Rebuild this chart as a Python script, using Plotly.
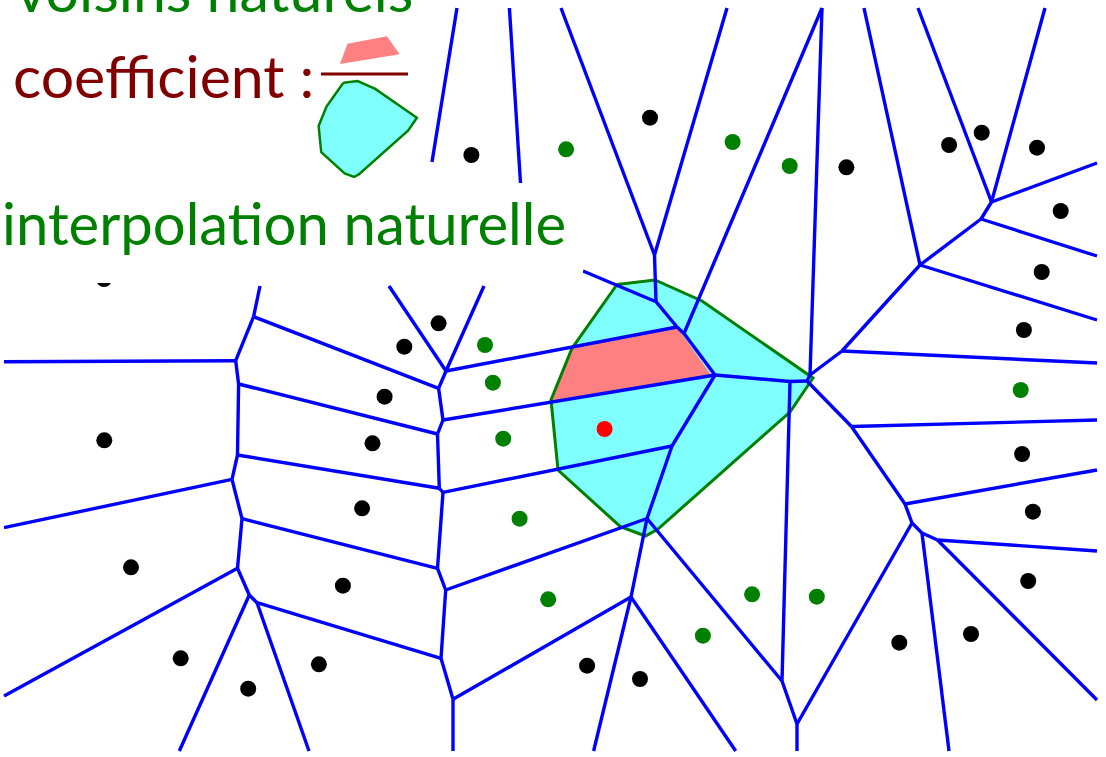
import plotly.graph_objects as go

# Voronoi vertices, in the drawing's pixel frame (y grows downwards)
node_names = [
    "A", "B", "C", "D", "E", "H", "I1", "I2", "V", "W", "X", "Y", "S", "R", "Q", "T", "U",
    "O", "P", "L", "M", "N", "J", "F", "G",
    "K1", "K2", "K3", "K4", "K5", "K6", "K7", "K8", "K9", "K10", "K11", "K12", "K13",
    "K14", "K15", "K16", "K17",
    # ends where the cells leave the frame or run under a label
    "t1", "t2", "t3", "t4", "t5", "t6", "c6", "t7", "c7", "c1", "c2", "c3", "c4",
    "l1", "l2", "l3", "b1", "b2", "b3", "b4", "b5", "b6", "b7",
    "r1", "r2", "r3", "r4", "r5", "r6", "r7", "r8",
]
node_x = [
    654.5, 656, 684, 677, 715, 790, 810, 807, 842, 920, 981, 991.5, 851.5, 905, 912, 922, 937.5,
    782, 797, 672, 647, 631, 822, 446, 443,
    235.7, 253.6, 438.6, 238.6, 437.5, 237.5, 439.3, 443, 232, 242, 437.5, 237.5, 249.3,
    257, 441, 445.7, 453,
    561, 727, 864, 918, 1045, 457, 432, 509.4, 520.5, 583, 260, 389, 484,
    4, 4, 4, 179.3, 309, 453, 593.6, 735.7, 797, 949,
    1097, 1097, 1097, 1097, 1097, 1097, 1097, 1097,
]
node_y = [
    255, 301.7, 333.5, 327, 375, 381.5, 375, 381, 351, 265, 219, 202, 426.5, 504, 523, 533, 540,
    681, 724, 446, 518.5, 597, 8, 371, 420,
    360.7, 316.7, 388.3, 384, 434, 455, 488.3, 492.3, 479.3, 518.7, 568.3, 568.3, 595,
    602.7, 658.3, 590, 699.3,
    8, 8, 8, 8, 8, 8, 162, 8, 183, 271, 286, 286, 286,
    361.7, 527.7, 696, 751, 751, 751, 751, 751, 751, 751,
    700, 551, 470, 420, 363, 320, 256, 163,
]

edges = [
    ("A", "t1"), ("A", "t2"), ("A", "B"), ("B", "c1"), ("B", "D"), ("D", "C"), ("C", "E"),
    ("C", "J"), ("D", "F"), ("G", "E"), ("E", "H"), ("H", "I2"), ("I2", "I1"), ("I1", "J"),
    ("I1", "V"), ("I2", "S"), ("H", "O"), ("O", "M"), ("O", "P"), ("P", "b6"), ("P", "Q"),
    ("Q", "R"), ("R", "S"), ("R", "r3"), ("S", "r4"), ("Q", "T"), ("T", "b7"), ("T", "U"),
    ("U", "r2"), ("U", "r1"), ("V", "W"), ("V", "r5"), ("W", "t3"), ("W", "r6"), ("W", "X"),
    ("X", "r7"), ("X", "Y"), ("Y", "t4"), ("Y", "t5"), ("Y", "r8"),
    ("E", "L"), ("L", "K8"), ("L", "M"), ("M", "K16"), ("M", "N"), ("N", "K17"),
    ("N", "b4"), ("N", "b5"),
    ("F", "K3"), ("F", "c3"), ("F", "c4"), ("K3", "K2"), ("K3", "G"), ("G", "K5"),
    ("K5", "K4"), ("K5", "K7"), ("K7", "K6"), ("K7", "K8"), ("K8", "K11"), ("K11", "K10"),
    ("K11", "K16"), ("K16", "K15"), ("K15", "K14"), ("K15", "K17"), ("K17", "b3"),
    ("K1", "l1"), ("K1", "K2"), ("K1", "K4"), ("K2", "c2"), ("K4", "K6"), ("K6", "K9"),
    ("K9", "l2"), ("K9", "K10"), ("K10", "K12"), ("K12", "l3"), ("K12", "K13"),
    ("K13", "b1"), ("K13", "K14"), ("K14", "b2"),
    ("t6", "c6"), ("t7", "c7"),
]

# natural-neighbour cell of the query point, and the stolen area from one neighbour
cell_x = [617, 655, 702, 813, 790, 658, 645.4, 620.4, 558, 551, 572]
cell_y = [284.5, 280, 301, 378, 412, 529, 536, 526.7, 470, 400, 348.3]
stolen_x = [572, 677, 711, 552]
stolen_y = [347.5, 327, 375, 401.5]

# sites
black_x = [104, 438.6, 404.3, 384.6, 104.3, 372.5, 362.1, 131, 342.9, 180.7, 318.9, 248.2,
           471.4, 650, 846.4, 949.1, 981.7, 1037, 1060.7, 1041.7, 1023.9, 1022.1, 1032.9,
           1028.2, 971, 899.3, 587.1, 640]
black_y = [279, 323.3, 346.7, 396.7, 440.3, 443.3, 508.3, 567.3, 585.7, 658.3, 664.3, 688.7,
           155, 117.7, 167.3, 145, 132.7, 147.7, 211, 272, 330, 454, 511.7,
           581, 634, 642.7, 665.7, 679]
green_x = [485, 492.9, 503.2, 519.6, 548.2, 566.1, 732.6, 789.7, 1020.7, 752.1, 816.8, 702.9]
green_y = [345, 382.7, 438.7, 518.7, 599.3, 149.3, 142, 166, 390, 594.3, 596.7, 635.7]
query_x = [604.6]
query_y = [429]

labels = ["voisins naturels", "coefficient :", "interpolation naturelle"]

BLUE = "#0000ff"
GREEN = "#008000"
CYAN = "#80ffff"
PINK = "#ff8080"
MAROON = "#800000"

pos = {n: (x, y) for n, x, y in zip(node_names, node_x, node_y)}
edge_x, edge_y = [], []
for a, b in edges:
    edge_x += [pos[a][0], pos[b][0], None]
    edge_y += [pos[a][1], pos[b][1], None]


def closed(v):
    return list(v) + [v[0]]


def scaled(v, k, off):
    return [k * t + off for t in closed(v)]


fig = go.Figure()

fig.add_scatter(x=closed(cell_x), y=closed(cell_y), mode="lines", fill="toself",
                fillcolor=CYAN, line=dict(width=0), hoverinfo="skip")
fig.add_scatter(x=closed(stolen_x), y=closed(stolen_y), mode="lines", fill="toself",
                fillcolor=PINK, line=dict(width=0), hoverinfo="skip")
fig.add_scatter(x=closed(cell_x), y=closed(cell_y), mode="lines",
                line=dict(color=GREEN, width=3), hoverinfo="skip")
fig.add_scatter(x=edge_x, y=edge_y, mode="lines", line=dict(color=BLUE, width=3.4),
                hoverinfo="skip")

fig.add_scatter(x=black_x, y=black_y, mode="markers",
                marker=dict(color="black", size=16, line=dict(width=0)))
fig.add_scatter(x=green_x, y=green_y, mode="markers",
                marker=dict(color=GREEN, size=16, line=dict(width=0)))
fig.add_scatter(x=query_x, y=query_y, mode="markers",
                marker=dict(color="#ff0000", size=16, line=dict(width=0)))

# small fraction in the legend: stolen area over the new cell
k = 0.375
fig.add_scatter(x=scaled(stolen_x, k, 133), y=scaled(stolen_y, k, -86.5), mode="lines",
                fill="toself", fillcolor=PINK, line=dict(width=0), hoverinfo="skip")
fig.add_scatter(x=scaled(cell_x, k, 112), y=scaled(cell_y, k, -24), mode="lines",
                fill="toself", fillcolor=CYAN, line=dict(color=GREEN, width=2.5),
                hoverinfo="skip")

fig.add_shape(type="rect", x0=0, x1=583, y0=183, y1=283, fillcolor="white",
              line=dict(width=0), layer="above")
fig.add_shape(type="line", x0=321, x1=408, y0=74, y1=74,
              line=dict(color=MAROON, width=3), layer="above")

font = dict(family="Lato", size=59)
fig.add_annotation(x=15, y=26.5, text=labels[0], font=dict(font, color=GREEN))
fig.add_annotation(x=12, y=112, text=labels[1], font=dict(font, color=MAROON))
fig.add_annotation(x=1, y=258, text=labels[2], font=dict(font, size=58, color=GREEN))
fig.update_annotations(showarrow=False, xanchor="left", yanchor="bottom",
                       xref="x", yref="y", borderpad=0)

fig.update_layout(
    width=1106, height=757,
    margin=dict(l=0, r=0, t=0, b=0),
    paper_bgcolor="white", plot_bgcolor="white",
    showlegend=False,
    xaxis=dict(range=[0, 1106], visible=False),
    yaxis=dict(range=[757, 0], visible=False),
)

# drop the page's default 8px body margin so the drawing sits at the window corner
fig.write_html("out.html", config={"displayModeBar": False},
               post_script="document.body.style.margin = '0';")
